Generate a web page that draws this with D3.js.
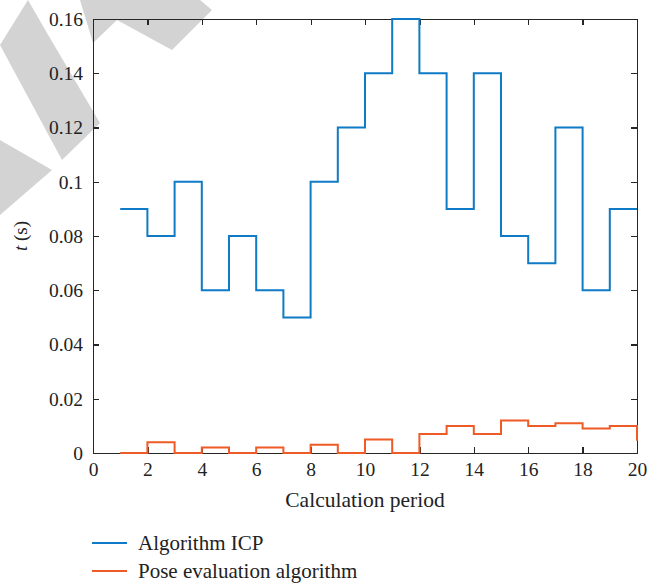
<!DOCTYPE html>
<html lang="en">
<head>
    <meta charset="UTF-8">
    <title>Calculation time</title>
    <script src="https://cdn.jsdelivr.net/npm/d3@7/dist/d3.min.js"></script>
</head>
<body>
<style>
    body {
        margin: 0;
        background-color: white;
    }

    svg {
        display: block;
        font-family: "Liberation Serif", "DejaVu Serif", serif;
    }

    .axis path,
    .axis line {
        stroke: #262626;
        stroke-width: 1.2;
        shape-rendering: crispEdges;
    }

    .axis text {
        font-size: 19.5px;
        fill: #222;
        font-family: "Liberation Serif", serif;
    }
</style>

<svg width="662" height="586"></svg>

<script>
    // calculation periods 1..20
    var periods = [1, 2, 3, 4, 5, 6, 7, 8, 9, 10, 11, 12, 13, 14, 15, 16, 17, 18, 19, 20];
    // Algorithm ICP, t (s)
    var icpTimes = [0.09, 0.08, 0.10, 0.06, 0.08, 0.06, 0.05, 0.10, 0.12, 0.14,
        0.16, 0.14, 0.09, 0.14, 0.08, 0.07, 0.12, 0.06, 0.09, 0.09];
    // Pose evaluation algorithm, t (s)
    var poseTimes = [0, 0.004, 0, 0.002, 0, 0.002, 0, 0.003, 0, 0.005,
        0, 0.007, 0.010, 0.007, 0.012, 0.010, 0.011, 0.009, 0.010, 0.0045];
    var xTicks = [0, 2, 4, 6, 8, 10, 12, 14, 16, 18, 20];
    var yTicks = [0, 0.02, 0.04, 0.06, 0.08, 0.1, 0.12, 0.14, 0.16];
    var seriesNames = ["Algorithm ICP", "Pose evaluation algorithm"];
    var seriesColors = ["#0f7ac5", "#ef5b27"];

    var svg = d3.select("svg");
    var plotLeft = 93, plotRight = 637, plotTop = 19, plotBottom = 453;

    // grey watermark in the corner (decoration)
    var marks = [
        [[0, 45], [28, 0], [47, 33], [100, 123], [62, 160]],
        [[80, 0], [200, 0], [212, 10], [172, 50], [117, 20], [93, 43]],
        [[0, 140], [52, 170], [0, 215]]
    ];
    svg.selectAll(".mark")
            .data(marks)
            .enter()
            .append("path")
            .attr("d", function (d) {
                return "M" + d.join("L") + "Z";
            })
            .attr("fill", "#d3d3d3");

    var getX = d3.scaleLinear()
            .domain([0, 20])
            .range([plotLeft, plotRight]);
    var getY = d3.scaleLinear()
            .domain([0, 0.16])
            .range([plotBottom, plotTop]);

    var fmt = function (v) {
        return String(+v.toFixed(2));
    };

    // axes, ticks pointing inward on all four sides
    svg.append("g")
            .attr("class", "axis")
            .attr("transform", "translate(0," + plotBottom + ")")
            .call(d3.axisBottom(getX).tickValues(xTicks).tickSizeInner(-6).tickSizeOuter(0).tickPadding(9));
    svg.append("g")
            .attr("class", "axis")
            .attr("transform", "translate(" + plotLeft + ",0)")
            .call(d3.axisLeft(getY).tickValues(yTicks).tickFormat(fmt).tickSizeInner(-6).tickSizeOuter(0).tickPadding(10));
    svg.append("g")
            .attr("class", "axis")
            .attr("transform", "translate(0," + plotTop + ")")
            .call(d3.axisTop(getX).tickValues(xTicks).tickFormat("").tickSizeInner(-6).tickSizeOuter(0));
    svg.append("g")
            .attr("class", "axis")
            .attr("transform", "translate(" + plotRight + ",0)")
            .call(d3.axisRight(getY).tickValues(yTicks).tickFormat("").tickSizeInner(-6).tickSizeOuter(0));

    // stairs
    var line = d3.line()
            .curve(d3.curveStepAfter)
            .x(function (d, i) {
                return getX(periods[i]);
            })
            .y(function (d) {
                return getY(d);
            });
    svg.selectAll(".series")
            .data([icpTimes, poseTimes])
            .enter()
            .append("path")
            .attr("d", line)
            .attr("fill", "none")
            .attr("stroke", function (d, i) {
                return seriesColors[i];
            })
            .attr("stroke-width", 2);

    // axis titles
    svg.append("text")
            .attr("x", (plotLeft + plotRight) / 2)
            .attr("y", 507)
            .attr("text-anchor", "middle")
            .style("font-size", "21.5px")
            .style("fill", "#222")
            .text("Calculation period");
    var yl = svg.append("text")
            .attr("transform", "translate(27," + ((plotTop + plotBottom) / 2) + ") rotate(-90)")
            .attr("text-anchor", "middle")
            .style("font-size", "19px")
            .style("fill", "#222");
    yl.append("tspan").style("font-style", "italic").text("t");
    yl.append("tspan").text(" (s)");

    // legend
    var legend = svg.selectAll(".legend")
            .data(seriesNames)
            .enter()
            .append("g")
            .attr("transform", function (d, i) {
                return "translate(92," + (543 + 28 * i) + ")";
            });
    legend.append("line")
            .attr("x1", 0)
            .attr("x2", 35)
            .attr("stroke", function (d, i) {
                return seriesColors[i];
            })
            .attr("stroke-width", 2);
    legend.append("text")
            .attr("x", 46)
            .attr("dy", "0.35em")
            .style("font-size", "21px")
            .style("fill", "#222")
            .text(function (d) {
                return d;
            });
</script>
</body>
</html>
